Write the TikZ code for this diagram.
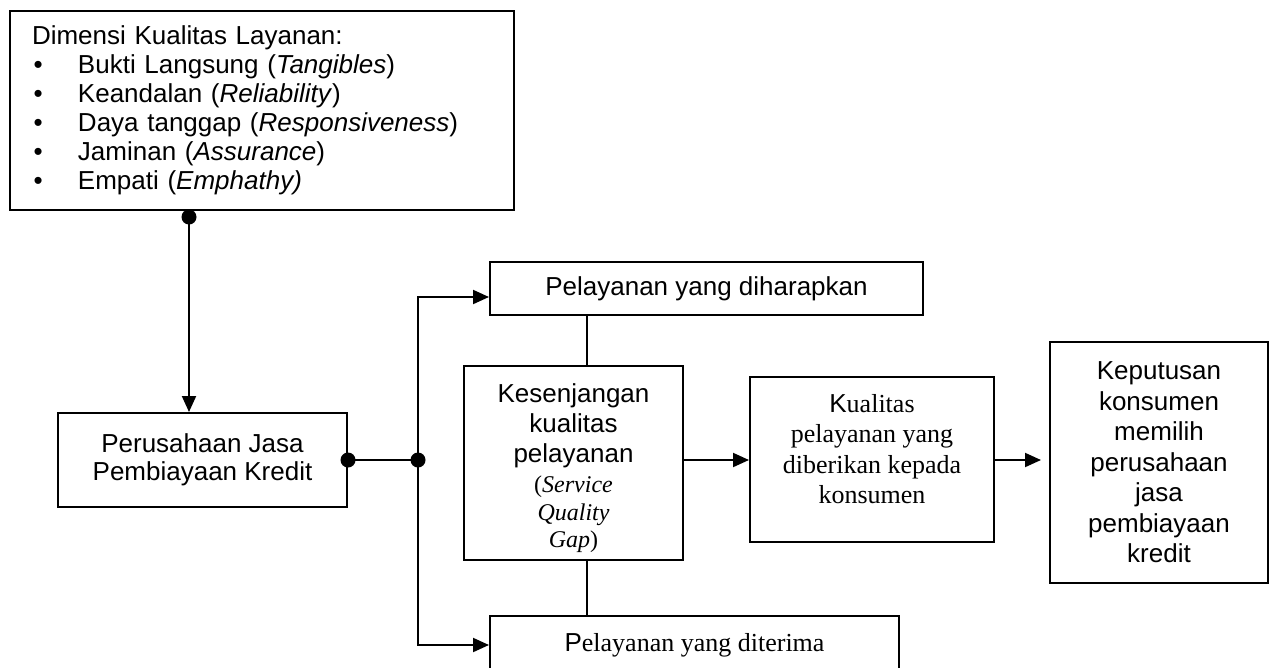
\documentclass[tikz,border=0pt]{standalone}
\usepackage{fontspec}
\setmainfont{Liberation Serif}
\newfontfamily\arialf{Liberation Sans}
\usetikzlibrary{arrows.meta}
\newcommand{\dimbullet}{\hspace*{1.5pt}\makebox[44.5pt][l]{\textbullet}}
\newcommand{\gapfont}{\rmfamily\fontsize{24}{27.5}\selectfont}
\begin{document}
\begin{tikzpicture}[x=1pt,y=-1pt,
  box/.style={draw, line width=2pt, inner sep=0pt, align=center},
  sansA/.style={font=\arialf\fontsize{26}{30.5}\selectfont},
  serifA/.style={font=\rmfamily\fontsize{26}{30.5}\selectfont},
  conn/.style={line width=2pt},
  arr/.style={conn, -{Triangle[length=16pt,width=14pt]}},
  dotn/.style={circle, fill=black, inner sep=0pt, minimum size=15pt}]
\useasboundingbox (0,0) rectangle (1272,667);

% helper coordinates
\coordinate (ya) at (0,297);
\coordinate (yc) at (0,460);
\coordinate (gx) at (587,0);

% boxes
\node[box, line width=2.6pt, minimum width=504pt, minimum height=199pt,
      text width=460pt, align=left, font=\arialf\fontsize{26}{29}\selectfont]
  (dim) at (262,110.5)
  {Dimensi Kualitas Layanan:\\
   \dimbullet Bukti Langsung (\textit{Tangibles})\\
   \dimbullet Keandalan (\textit{Reliability})\\
   \dimbullet Daya tanggap (\textit{Responsiveness})\\
   \dimbullet Jaminan (\textit{Assurance})\\
   \dimbullet Empati (\textit{Emphathy)}};

\node[box, font=\arialf\fontsize{26}{28.5}\selectfont,
      minimum width=289pt, minimum height=94pt]
  (per) at (202.5,460) {Perusahaan Jasa\\Pembiayaan Kredit};

\node[box, sansA, minimum width=433pt, minimum height=53pt]
  (dih) at (706.5,288.5) {Pelayanan yang diharapkan};

\node[box, font=\arialf\fontsize{26}{30}\selectfont,
      minimum width=219pt, minimum height=194pt]
  (kes) at (573.5,463)
  {\rule{0pt}{30pt}Kesenjangan\\kualitas\\pelayanan\\
   \gapfont(\textit{Service}\\[-2.5pt]
   \gapfont\textit{Quality}\\[-2.5pt]
   \gapfont\textit{Gap})};

\node[box, serifA, minimum width=244pt, minimum height=165pt]
  (kual) at (872,459.5)
  {{\arialf K}ualitas\\pelayanan yang\\diberikan kepada\\konsumen\rule[-21pt]{0pt}{21pt}};

\node[box, sansA, minimum width=218pt, minimum height=241pt]
  (kep) at (1159,462.5)
  {Keputusan\\konsumen\\memilih\\perusahaan\\jasa\\pembiayaan\\kredit};

\node[box, serifA, minimum width=409pt, minimum height=58pt]
  (dit) at (694.5,645) {{\arialf P}elayanan yang diterima};

% junction dots
\node[dotn] (dt) at (189,217) {};
\node[dotn] (dj1) at (per.east) {};
\node[dotn] (dj2) at (418,460) {};

% connectors
\draw[arr] (dt.center) -- (dt.center |- per.north);
\draw[conn] (dj1.center) -- (dj2.center);
\draw[arr] (dj2.center) |- (dih.west |- ya);
\draw[arr] (dj2.center) |- (dit.west);
\draw[conn] (gx |- dih.south) -- (gx |- kes.north);
\draw[conn] (gx |- kes.south) -- (gx |- dit.north);
\draw[arr] (kes.east |- yc) -- (kual.west |- yc);
\draw[arr, shorten >=8pt] (kual.east |- yc) -- (kep.west |- yc);
\end{tikzpicture}
\end{document}
